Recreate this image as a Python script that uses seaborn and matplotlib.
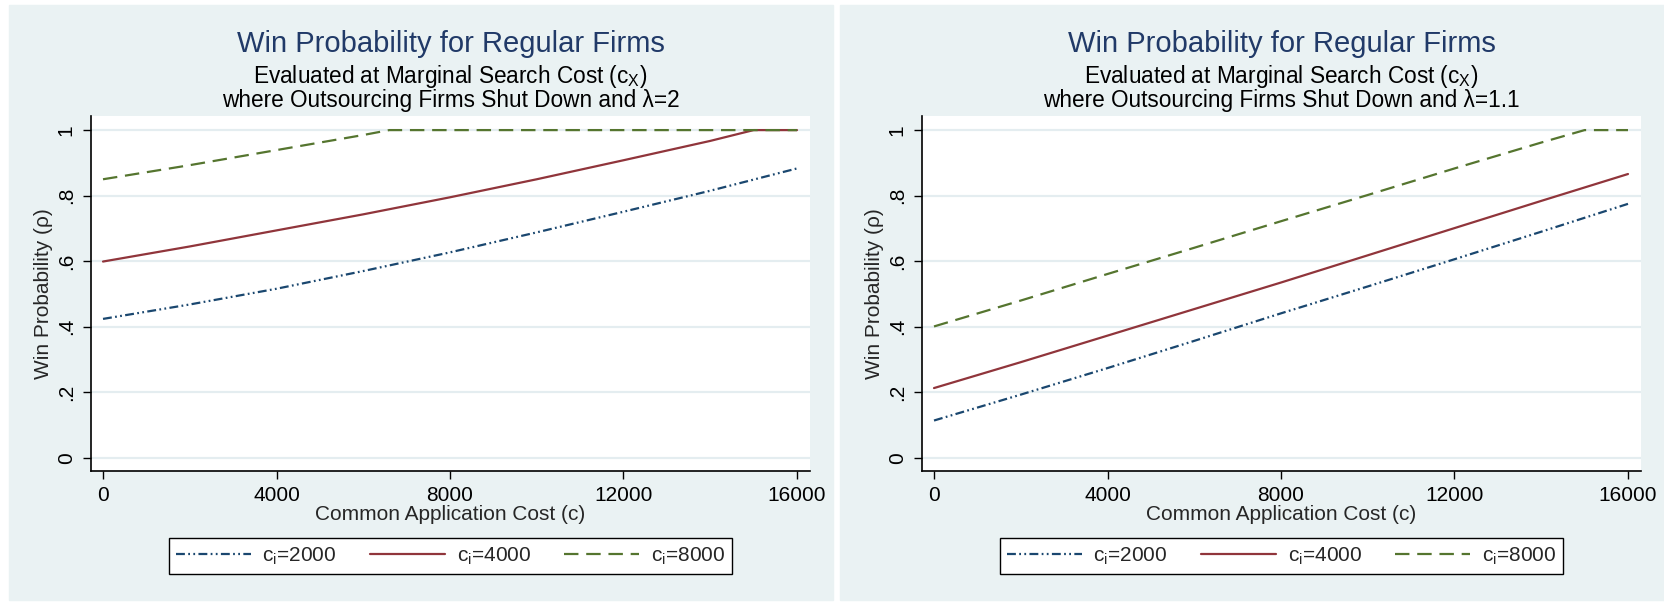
import matplotlib
matplotlib.use("Agg")
import matplotlib.pyplot as plt
from matplotlib.patches import Rectangle
import seaborn as sns

# ---- data ----
cost = [0, 2000, 4000, 6000, 8000, 10000, 12000, 14000, 16000]

# left panel, lambda = 2
l2_ci2000 = [0.424, 0.468, 0.516, 0.570, 0.627, 0.688, 0.751, 0.815, 0.883]
l2_ci4000_x = [0, 2000, 4000, 6000, 8000, 10000, 12000, 14000, 15000, 16000]
l2_ci4000 = [0.599, 0.645, 0.694, 0.743, 0.795, 0.850, 0.908, 0.967, 1.0, 1.0]
l2_ci8000_x = [0, 2000, 4000, 6000, 6600, 8000, 12000, 16000]
l2_ci8000 = [0.850, 0.893, 0.939, 0.985, 1.0, 1.0, 1.0, 1.0]

# right panel, lambda = 1.1
l11_ci2000 = [0.114, 0.193, 0.274, 0.357, 0.441, 0.523, 0.606, 0.690, 0.775]
l11_ci4000 = [0.213, 0.292, 0.373, 0.454, 0.535, 0.618, 0.701, 0.784, 0.866]
l11_ci8000_x = [0, 2000, 4000, 6000, 8000, 10000, 12000, 14000, 15000, 16000]
l11_ci8000 = [0.401, 0.480, 0.561, 0.641, 0.722, 0.802, 0.883, 0.962, 1.0, 1.0]

yticks = [0, 0.2, 0.4, 0.6, 0.8, 1.0]
ytick_labels = ["0", ".2", ".4", ".6", ".8", "1"]
xticks = [0, 4000, 8000, 12000, 16000]
legend_labels = [r"c$_\mathregular{i}$=2000", r"c$_\mathregular{i}$=4000", r"c$_\mathregular{i}$=8000"]

title = "Win Probability for Regular Firms"
sub1 = r"Evaluated at Marginal Search Cost (c$_\mathregular{X}$)"
sub2_left = "where Outsourcing Firms Shut Down and \u03bb=2"
sub2_right = "where Outsourcing Firms Shut Down and \u03bb=1.1"

# stata s2color look
bg = "#EAF2F3"
navy = "#213A68"
c_blue = "#1A476F"
c_red = "#90353B"
c_green = "#55752F"
ls_blue = (0, (4, 1.5, 0.8, 1.5, 0.8, 1.5))
ls_green = (0, (6.5, 3.5))

sns.set_theme(style="white")
plt.rcParams["font.family"] = ["Liberation Sans", "DejaVu Sans"]
plt.rcParams["mathtext.fontset"] = "custom"
plt.rcParams["mathtext.rm"] = "Liberation Sans"

W, H = 1665, 604
fig = plt.figure(figsize=(W / 100, H / 100), dpi=100)
fig.patch.set_facecolor("white")


def panel(off, series, sub2):
    # light graph region behind each panel
    fig.add_artist(Rectangle(((9 + off) / W, 4 / H), 824 / W, 595 / H,
                             transform=fig.transFigure, color=bg, zorder=0))
    ax = fig.add_axes([(91 + off) / W, (H - 471) / H, 719 / W, 355 / H])
    ax.set_facecolor("white")
    for (x, y, col, ls, lab) in series:
        sns.lineplot(x=x, y=y, ax=ax, color=col, linestyle=ls, lw=1.6, label=lab)
    ax.set_xlim(-277, 16300)
    ax.set_ylim(-0.04, 1.043)
    ax.set_xticks(xticks)
    ax.set_xticklabels([str(t) for t in xticks], fontsize=15)
    ax.set_yticks(yticks)
    ax.set_yticklabels(ytick_labels, fontsize=15, rotation=90, va="center")
    ax.tick_params(axis="both", direction="out", length=6, width=1, color="black",
                   bottom=True, left=True, labelcolor="black")
    ax.tick_params(axis="x", pad=5)
    ax.tick_params(axis="y", pad=5)
    ax.yaxis.grid(True, color="#E4EDF0", lw=1.6)
    ax.xaxis.grid(False)
    ax.set_axisbelow(True)
    for s in ["top", "right"]:
        ax.spines[s].set_visible(False)
    for s in ["left", "bottom"]:
        ax.spines[s].set_color("black")
        ax.spines[s].set_linewidth(1.2)
    ax.set_xlabel("Common Application Cost (c)", fontsize=15, labelpad=0)
    ax.set_ylabel("Win Probability (\u03c1)", fontsize=15)
    ax.yaxis.set_label_coords(-0.053, 0.5)
    leg = ax.legend(loc="upper center", bbox_to_anchor=(0.5, -0.189), ncol=3,
                    fontsize=15, frameon=True, fancybox=False, edgecolor="black",
                    framealpha=1, handlelength=3.6, handletextpad=0.55,
                    columnspacing=1.6, borderpad=0.35, borderaxespad=0)
    leg.get_frame().set_linewidth(1.0)
    cx = (91 + 810) / 2 / W + off / W
    fig.text(cx, (H - 51.7) / H, title, ha="center", va="baseline", fontsize=21, color=navy)
    # two-line subtitle as one text block, tight stata-like line spacing
    fig.text(cx, (H - 111.5) / H, sub1 + "\n" + sub2, ha="center", va="bottom",
             multialignment="center", linespacing=0.89, fontsize=16.3, color="black")
    return ax


panel(0, [(cost, l2_ci2000, c_blue, ls_blue, legend_labels[0]),
          (l2_ci4000_x, l2_ci4000, c_red, "-", legend_labels[1]),
          (l2_ci8000_x, l2_ci8000, c_green, ls_green, legend_labels[2])], sub2_left)

panel(831, [(cost, l11_ci2000, c_blue, ls_blue, legend_labels[0]),
            (cost, l11_ci4000, c_red, "-", legend_labels[1]),
            (l11_ci8000_x, l11_ci8000, c_green, ls_green, legend_labels[2])], sub2_right)

plt.savefig("out.png", dpi=100)
